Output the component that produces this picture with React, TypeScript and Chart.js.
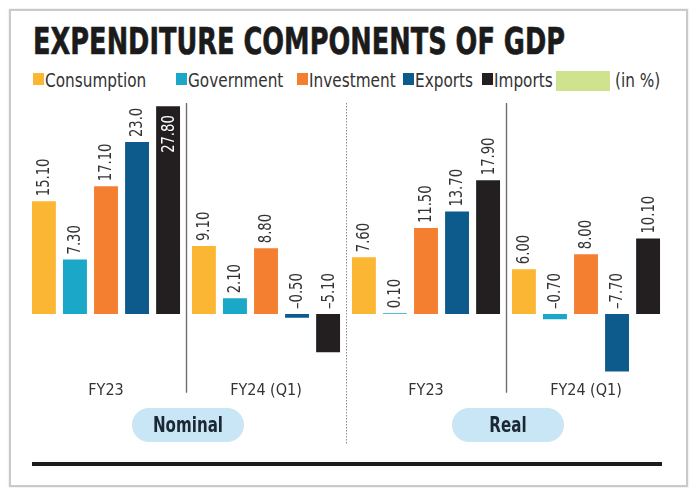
import React, { useEffect, useLayoutEffect, useRef } from 'react';
import { Chart, registerables } from 'chart.js';

Chart.register(...registerables);

// ---------- data ----------
const categories = ['FY23', 'FY24 (Q1)', 'FY23', 'FY24 (Q1)'];
const groupNames = ['Nominal', 'Real'];
const seriesNames = ['Consumption', 'Government', 'Investment', 'Exports', 'Imports'];
const consumption = [15.1, 9.1, 7.6, 6.0];
const government = [7.3, 2.1, 0.1, -0.7];
const investment = [17.1, 8.8, 11.5, 8.0];
const exportsValues = [23.0, -0.5, 13.7, -7.7];
const imports = [27.8, -5.1, 17.9, 10.1];
// labels printed with one decimal in the source: [seriesIndex, categoryIndex]
const oneDecimalLabels = [[3, 0]];
const unitNote = '(in %)';
const title = 'EXPENDITURE COMPONENTS OF GDP';

// ---------- style ----------
const seriesColors = ['#fbb733', '#1aa7c8', '#f47f30', '#0d5a8c', '#231f20'];
const NARROW = "'Liberation Sans Narrow', 'DejaVu Sans Condensed', 'Noto Sans', sans-serif";
const legendSquareX = [33, 176, 297, 403, 482];
const TEXT_SQUEEZE = 0.85;

const seriesData = [consumption, government, investment, exportsValues, imports];

function fmt(v: number, si: number, i: number): string {
  const one = oneDecimalLabels.some(([s, c]) => s === si && c === i);
  const s = Math.abs(v).toFixed(one ? 1 : 2);
  return v < 0 ? '\u2013' + s : s;
}

const overlayPlugin = {
  id: 'overlay',
  afterDatasetsDraw(chart: any) {
    const { ctx, chartArea, scales } = chart;
    const x = scales.x;
    const y = scales.y;
    const zero = y.getPixelForValue(0);
    ctx.save();
    for (let i = 0; i < categories.length - 1; i++) {
      const bx = Math.round((x.getPixelForValue(i) + x.getPixelForValue(i + 1)) / 2) + 0.5;
      const dotted = i === 1;
      ctx.beginPath();
      ctx.strokeStyle = dotted ? '#8c8c8c' : '#707070';
      ctx.lineWidth = dotted ? 1 : 1.4;
      ctx.setLineDash(dotted ? [1.5, 1.5] : []);
      ctx.moveTo(bx, chartArea.top + 2);
      ctx.lineTo(bx, chartArea.bottom + (dotted ? 70 : 19));
      ctx.stroke();
    }
    ctx.setLineDash([]);
    ctx.font = `17px ${NARROW}`;
    ctx.textBaseline = 'middle';
    chart.data.datasets.forEach((ds: any, si: number) => {
      const meta = chart.getDatasetMeta(si);
      meta.data.forEach((bar: any, i: number) => {
        const v = ds.data[i];
        const text = fmt(v, si, i);
        const w = ctx.measureText(text).width * 0.86;
        const top = Math.min(bar.y, zero);
        ctx.save();
        if (top - 5 - w < chartArea.top - 10) {
          ctx.translate(bar.x, bar.y + 9);
          ctx.rotate(-Math.PI / 2);
          ctx.scale(0.86, 1);
          ctx.textAlign = 'right';
          ctx.fillStyle = '#ffffff';
        } else {
          ctx.translate(bar.x, top - 5);
          ctx.rotate(-Math.PI / 2);
          ctx.scale(0.86, 1);
          ctx.textAlign = 'left';
          ctx.fillStyle = '#333333';
        }
        ctx.fillText(text, 0, 1);
        ctx.restore();
      });
    });
    ctx.restore();
  },
};

function BarChart() {
  const ref = useRef<HTMLCanvasElement | null>(null);
  useEffect(() => {
    if (!ref.current) return;
    const chart = new Chart(ref.current, {
      type: 'bar',
      data: {
        labels: categories,
        datasets: seriesNames.map((name, si) => ({
          label: name,
          data: seriesData[si],
          backgroundColor: seriesColors[si],
          borderWidth: 0,
          categoryPercentage: 0.97,
          barPercentage: 0.77,
        })),
      },
      options: {
        responsive: false,
        animation: false,
        layout: { padding: { top: 11, left: 16, right: 20, bottom: 73 } },
        plugins: { legend: { display: false }, tooltip: { enabled: false }, title: { display: false } },
        scales: {
          x: {
            grid: { display: false, drawTicks: false },
            border: { display: false },
            ticks: { color: '#333', font: { family: NARROW, size: 16 }, padding: 7 },
          },
          y: { display: false, min: -8, max: 28.5 },
        },
      },
      plugins: [overlayPlugin],
    });
    return () => chart.destroy();
  }, []);
  return <canvas ref={ref} width={676} height={390} style={{ display: 'block' }} />;
}

export default function App() {
  const titleRef = useRef<HTMLDivElement | null>(null);
  useLayoutEffect(() => {
    const el = titleRef.current;
    if (!el) return;
    const w = el.getBoundingClientRect().width;
    if (w > 0) el.style.transform = `scaleX(${532 / w})`;
  }, []);
  const abs = (left: number, top: number, extra: React.CSSProperties = {}): React.CSSProperties => ({
    position: 'absolute',
    left,
    top,
    ...extra,
  });
  const squeezed = (factor: number): React.CSSProperties => ({
    transform: `scaleX(${factor})`,
    transformOrigin: 'left top',
    whiteSpace: 'nowrap',
  });
  return (
    <div style={abs(0, 0, { width: 696, height: 492, overflow: 'hidden', background: '#fff', fontFamily: NARROW })}>
      <div
        style={abs(9, 9, {
          width: 679,
          height: 478,
          border: '2px solid #cacaca',
          boxSizing: 'border-box',
          boxShadow: '0 0 2px rgba(0,0,0,0.15)',
        })}
      />
      <div
        ref={titleRef}
        style={abs(33, 22, {
          fontSize: 38,
          fontWeight: 700,
          lineHeight: 1,
          color: '#1b1b1b',
          whiteSpace: 'nowrap',
          transformOrigin: 'left top',
          WebkitTextStroke: '0.6px #1b1b1b',
        })}
      >
        {title}
      </div>
      {seriesNames.map((name, si) => (
        <React.Fragment key={name}>
          <div style={abs(legendSquareX[si], 73, { width: 11, height: 12, background: seriesColors[si] })} />
          <div
            style={abs(legendSquareX[si] + 12, 70, {
              fontSize: 20,
              lineHeight: 1,
              color: '#333',
              ...squeezed(TEXT_SQUEEZE),
            })}
          >
            {name}
          </div>
        </React.Fragment>
      ))}
      <div style={abs(556, 71, { width: 54, height: 20, background: '#cfe38e' })} />
      <div style={abs(615, 70, { fontSize: 20, lineHeight: 1, color: '#333', ...squeezed(TEXT_SQUEEZE) })}>
        {unitNote}
      </div>
      <div style={abs(10, 90, { width: 676, height: 390 })}>
        <BarChart />
      </div>
      {groupNames.map((g, gi) => (
        <div
          key={g}
          style={abs(gi === 0 ? 132 : 452, 408, {
            width: 112,
            height: 34,
            borderRadius: 17,
            background: '#c8e6f5',
          })}
        >
          <div
            style={{
              color: '#1b2733',
              fontWeight: 700,
              fontSize: 21,
              lineHeight: '34px',
              textAlign: 'center',
              transform: 'scaleX(0.8)',
              transformOrigin: 'center top',
              whiteSpace: 'nowrap',
            }}
          >
            {g}
          </div>
        </div>
      ))}
      <div style={abs(32, 462, { width: 630, height: 4, background: '#1c1c1c' })} />
    </div>
  );
}
